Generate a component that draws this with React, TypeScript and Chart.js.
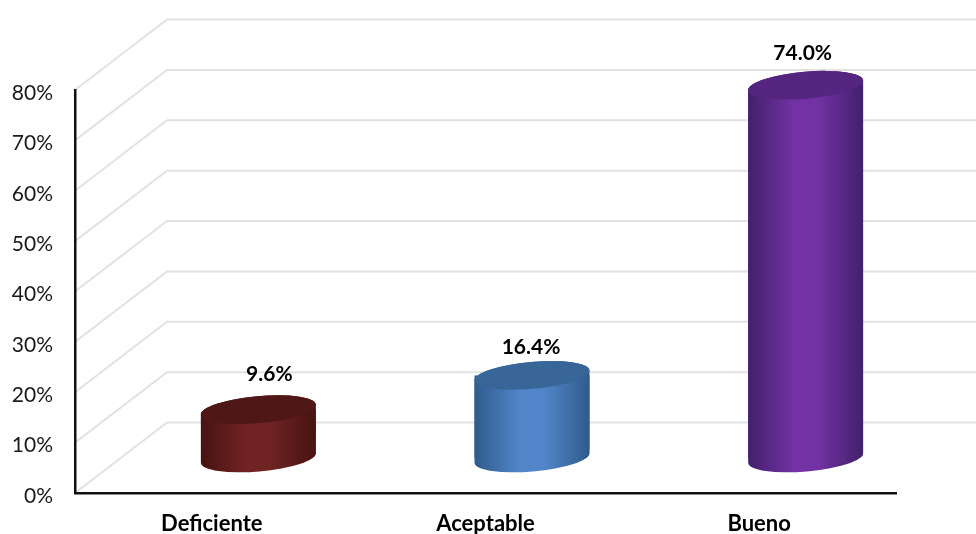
import React, { useEffect, useRef } from "react";
import { Chart, registerables } from "chart.js";

Chart.register(...registerables);

const categories = ["Deficiente", "Aceptable", "Bueno"];
const values = [9.6, 16.4, 74.0];
const valueLabels = ["9.6%", "16.4%", "74.0%"];
const bodyEdge = ["#471312", "#2f5a8c", "#42206c"];
const bodyMid = ["#702323", "#5286ca", "#7332a4"];
const capColors = ["#4f1817", "#386699", "#55267f"];
const labelNudgeX = [11, -1, -3];
const labelNudgeY = [-22, -15, -18];

const FONT = "Lato, 'Open Sans', sans-serif";
const DEPTH_X = 92;
const DEPTH_Y = 70.5;
const BAR_DX = 46.5;
const BAR_DY = -35;
const TILT = (-5 * Math.PI) / 180;
const RY = 13.5;

function makeGradient(ctx: CanvasRenderingContext2D, i: number, x0: number, x1: number) {
  const g = ctx.createLinearGradient(x0, 0, x1, 0);
  g.addColorStop(0, bodyEdge[i]);
  g.addColorStop(0.4, bodyMid[i]);
  g.addColorStop(0.6, bodyMid[i]);
  g.addColorStop(1, bodyEdge[i]);
  return g;
}

const wallsPlugin = {
  id: "walls",
  beforeDraw(chart: any) {
    const { ctx, scales } = chart;
    const y = scales.y;
    const left = chart.chartArea.left;
    ctx.save();
    ctx.strokeStyle = "#e2e2e2";
    ctx.lineWidth = 2;
    y.ticks.forEach((t: any) => {
      const py = y.getPixelForValue(t.value);
      ctx.beginPath();
      ctx.moveTo(left, py);
      ctx.lineTo(left + DEPTH_X, py - DEPTH_Y);
      ctx.lineTo(chart.width, py - DEPTH_Y);
      ctx.stroke();
    });
    ctx.restore();
  },
};

const cylinderPlugin = {
  id: "cylinders",
  beforeDatasetDraw(chart: any, args: any) {
    const { ctx } = chart;
    const bars = args.meta.data;
    ctx.save();
    ctx.translate(BAR_DX, BAR_DY);
    const outline = (b: any, c: any) => {
      const rx = b.width / 2 / Math.cos(TILT);
      c.ellipse(b.x, b.y, rx, RY, TILT, Math.PI, 2 * Math.PI);
      c.ellipse(b.x, b.base, rx, RY, TILT, 0, Math.PI);
      c.closePath();
    };
    bars.forEach((b: any, i: number) => {
      ctx.beginPath();
      outline(b, ctx);
      ctx.fillStyle = makeGradient(ctx, i, b.x - b.width / 2, b.x + b.width / 2);
      ctx.fill();
    });
    ctx.beginPath();
    bars.forEach((b: any) => outline(b, ctx));
    ctx.clip();
  },
  afterDatasetDraw(chart: any, args: any) {
    const { ctx } = chart;
    ctx.restore();
    const bars = args.meta.data;
    ctx.save();
    ctx.translate(BAR_DX, BAR_DY);
    bars.forEach((b: any, i: number) => {
      const rx = b.width / 2 / Math.cos(TILT);
      ctx.beginPath();
      ctx.ellipse(b.x, b.y, rx, RY, TILT, 0, 2 * Math.PI);
      ctx.fillStyle = capColors[i];
      ctx.fill();
      ctx.fillStyle = "#000000";
      ctx.font = `bold 21px ${FONT}`;
      ctx.textAlign = "center";
      ctx.textBaseline = "middle";
      ctx.fillText(valueLabels[i], b.x + labelNudgeX[i], b.y - RY + labelNudgeY[i]);
    });
    ctx.restore();
  },
};

export default function App() {
  const ref = useRef<HTMLCanvasElement | null>(null);
  useEffect(() => {
    if (!ref.current) return;
    const chart = new Chart(ref.current, {
      type: "bar",
      data: {
        labels: categories,
        datasets: [
          {
            data: values,
            categoryPercentage: 1,
            barPercentage: 0.42,
            borderWidth: 0,
            clip: false,
            backgroundColor: (c: any) => {
              const ch = c.chart;
              if (!ch.chartArea || !ch.scales.x) return bodyMid[c.dataIndex ?? 0];
              const x = ch.scales.x.getPixelForValue(c.dataIndex);
              const w = (ch.scales.x.width / categories.length) * 0.42;
              return makeGradient(ch.ctx, c.dataIndex, x - w / 2, x + w / 2);
            },
          } as any,
        ],
      },
      options: {
        responsive: false,
        animation: false,
        devicePixelRatio: 1,
        layout: { padding: { top: 90, right: 80, left: 0, bottom: 0 } },
        plugins: { legend: { display: false }, tooltip: { enabled: false } },
        scales: {
          x: {
            grid: { display: false, drawTicks: false },
            border: { display: true, color: "#111111", width: 2.5 },
            ticks: {
              color: "#000000",
              padding: 18,
              maxRotation: 0,
              font: { family: FONT, size: 22, weight: "bold" },
            },
            afterFit: (s: any) => {
              s.height = 41;
            },
          },
          y: {
            min: 0,
            max: 80,
            grid: { display: false, drawTicks: false },
            border: { display: true, color: "#111111", width: 2.5 },
            ticks: {
              stepSize: 10,
              color: "#1a1a1a",
              padding: 22,
              labelOffset: 3,
              font: { family: FONT, size: 21 },
              callback: (v: any) => `${v}%`,
            },
            afterFit: (s: any) => {
              s.width = 75;
            },
          },
        },
      },
      plugins: [wallsPlugin, cylinderPlugin],
    } as any);
    return () => chart.destroy();
  }, []);
  return (
    <canvas
      ref={ref}
      width={976}
      height={534}
      style={{ position: "fixed", left: 0, top: 0, display: "block" }}
    />
  );
}
